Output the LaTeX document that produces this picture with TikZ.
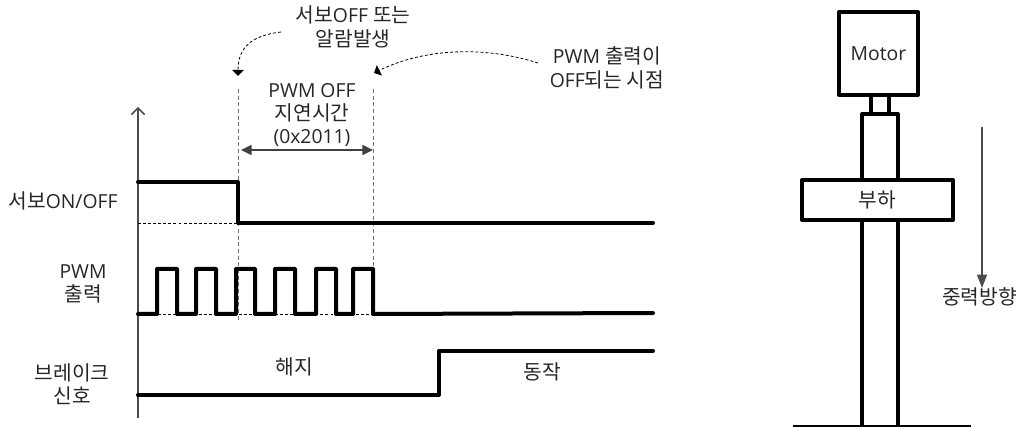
\documentclass[tikz,border=0pt]{standalone}
\usepackage{fontspec}
\setmainfont{Open Sans}
\newfontfamily\kr[Scale=1.05]{Noto Sans CJK KR}
\usetikzlibrary{arrows.meta,positioning}
\begin{document}
\begin{tikzpicture}[
        x=0.75pt, y=-0.75pt,
        label/.style={align=center, inner sep=0pt, font=\fontsize{14.5}{17.5}\selectfont, text=black!85},
        signal/.style={line width=3pt, line join=round, line cap=round},
        body/.style={line width=3pt, line join=round, fill=white},
        guide/.style={dashed, draw=black!55, line width=0.75pt, dash pattern=on 3pt off 2pt},
        level/.style={dashed, line width=0.55pt, dash pattern=on 2.2pt off 1.6pt},
        note/.style={-{Triangle[length=4.5pt,width=8.5pt]}, dashed, line width=0.6pt, dash pattern=on 2.2pt off 1.6pt},
        span/.style={{Triangle[length=8pt,width=7.5pt]}-{Triangle[length=8pt,width=7.5pt]}, draw=black!75, line width=1.1pt}
    ]
    \useasboundingbox (0,0) rectangle (1024,427);

    % time axis
    \coordinate (axisbase) at (138,418);
    \coordinate (axistop) at (138,107);
    \draw[-{Straight Barb[length=5pt,width=10pt]}, draw=black!70, line width=1.1pt] (axisbase) -- (axistop);

    % levels and guides
    \coordinate (offtop) at (238,89);
    \coordinate (offbase) at (238,322);
    \coordinate (pwmtop) at (373,89);
    \coordinate (pwmbase) at (373,269);
    \draw[guide] (offtop) -- (offbase);
    \draw[guide] (pwmtop) -- (pwmbase);
    \coordinate (servolow) at (138,223);
    \coordinate (servodrop) at (238,223);
    \coordinate (pwmlow) at (138,314);
    \coordinate (pwmdrop) at (373,314);
    \draw[level] (servolow) -- (servodrop);
    \draw[level] (pwmlow) -- (pwmdrop);

    % signals
    \draw[signal] (138,182) -- (238,182) -- (238,223) -- (653,223);
    \draw[signal] (138,314) -- (157,314) foreach \up/\down in {157/177,196/216,236/255,275/295,316/336,353/373} {
        -- (\up,314) -- (\up,269) -- (\down,269) -- (\down,314)
    } -- (653,313);
    \draw[signal] (138,395) -- (439,395) -- (439,351) -- (653,351);

    % delay span
    \coordinate (spanleft) at (241,150);
    \coordinate (spanright) at (373,150);
    \draw[span] (spanleft) -- (spanright);

    % notes
    \coordinate (alarmfrom) at (281,32);
    \coordinate (alarmto) at (238,76);
    \coordinate (pwmfrom) at (538,63);
    \coordinate (pwmto) at (374,73);
    \draw[note] (alarmfrom) .. controls (255,35) and (238,45) .. (alarmto);
    \draw[note] (pwmfrom) .. controls (485,46) and (425,48) .. (pwmto);

    % labels
    \node[label] (alarm) at (353,27) {{\kr 서보}OFF {\kr 또는}\\{\kr 알람발생}};
    \node[label] (pwmoff) at (607,68) {PWM {\kr 출력이}\\OFF{\kr 되는 시점}};
    \node[label] (delay) at (312,115) {PWM OFF\\{\kr 지연시간}\\(0x2011)};
    \node[label] (servo) at (63,201) {{\kr 서보}ON/OFF};
    \node[label] (pwm) at (83,284) {PWM\\{\kr 출력}};
    \node[label] (brake) at (72,384) {{\kr 브레이크}\\{\kr 신호}};
    \node[label] (release) at (294,367) {\kr 해지};
    \node[label] (active) at (542,372) {\kr 동작};

    % motor and load
    \coordinate (groundleft) at (793,426);
    \coordinate (groundright) at (971,426);
    \draw[body, fill=none] (862,426) |- (898,114) -- (898,426);
    \draw[body, fill=none] (871,114) -- (871,95);
    \draw[body, fill=none] (889,114) -- (889,95);
    \draw[line width=2.2pt] (groundleft) -- (groundright);
    \node[body, draw, minimum width=59.25pt, minimum height=62.25pt, inner sep=0pt, font=\fontsize{14.5}{17}\selectfont, text=black!85] (motor) at (878.5,53.5) {Motor};
    \node[body, draw, minimum width=113pt, minimum height=30pt, inner sep=0pt, font=\fontsize{14.5}{17}\selectfont, text=black!85] (load) at (877.5,200) {\kr 부하};

    % gravity
    \coordinate (gravitytop) at (982,127);
    \coordinate (gravitybase) at (982,288);
    \draw[-{Triangle[length=10pt,width=7.5pt]}, draw=black!70, line width=0.9pt] (gravitytop) -- (gravitybase);
    \node[label] (gravity) at (979.5,297) {\kr 중력방향};
\end{tikzpicture}
\end{document}
